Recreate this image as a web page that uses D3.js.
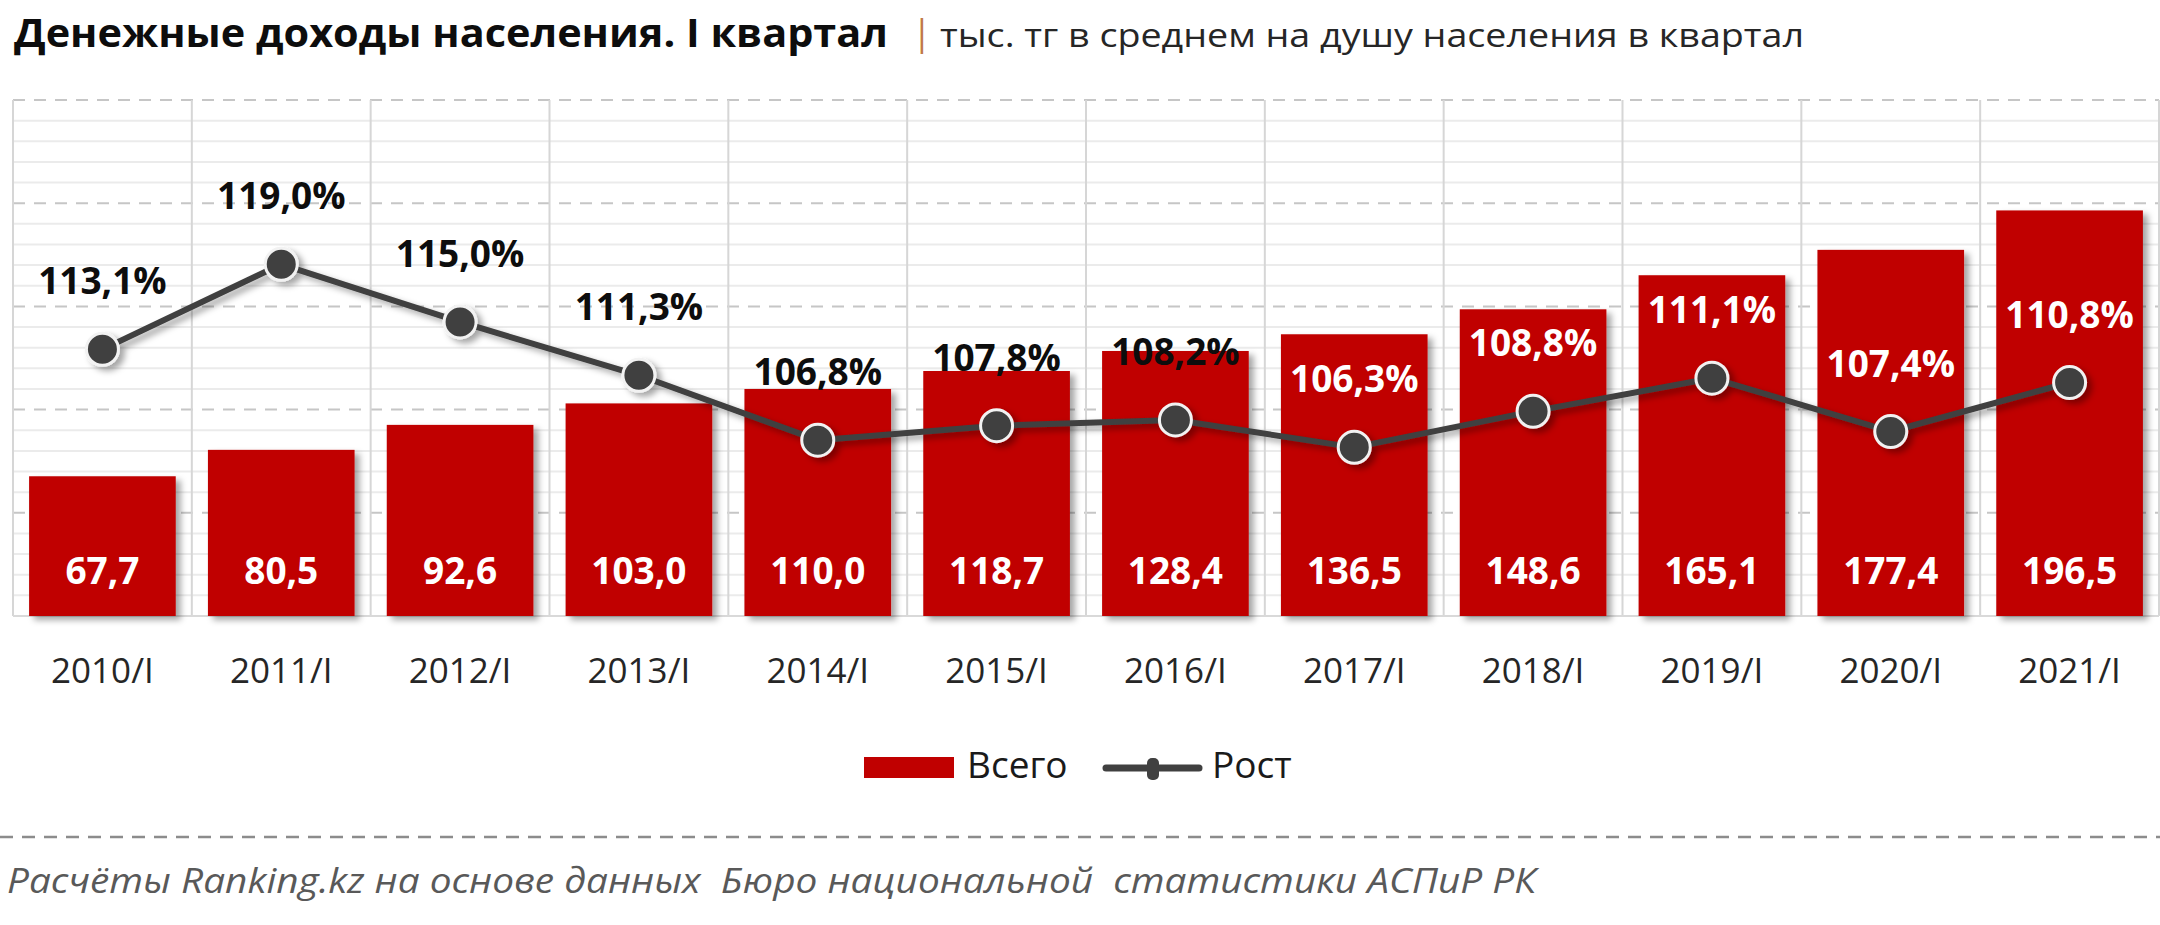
<!DOCTYPE html>
<html>
<head>
<meta charset="utf-8">
<script src="https://cdn.jsdelivr.net/npm/d3@7"></script>
<style>
  body { margin: 0; background: #fff; }
  svg { display: block; font-family: "Open Sans", sans-serif; }
</style>
</head>
<body>
<svg id="chart"></svg>
<script>
// ---- data ----
const periods = ["2010/I", "2011/I", "2012/I", "2013/I", "2014/I", "2015/I",
                 "2016/I", "2017/I", "2018/I", "2019/I", "2020/I", "2021/I"];
const totals = [67.7, 80.5, 92.6, 103.0, 110.0, 118.7, 128.4, 136.5, 148.6, 165.1, 177.4, 196.5];
const growth = [113.1, 119.0, 115.0, 111.3, 106.8, 107.8, 108.2, 106.3, 108.8, 111.1, 107.4, 110.8];
const seriesNames = ["Всего", "Рост"];

const width = 2160, height = 925;
const plot = { left: 13, right: 2159, top: 100, bottom: 616 };

const locale = d3.formatLocale({ decimal: ",", thousands: " ", grouping: [3], currency: ["", ""] });
const fmt = locale.format(".1f");

const svg = d3.select("#chart")
  .attr("width", width)
  .attr("height", height)
  .attr("viewBox", `0 0 ${width} ${height}`);

svg.append("rect").attr("width", width).attr("height", height).attr("fill", "#fff");

const defs = svg.append("defs");
const shadow = defs.append("filter").attr("id", "shadow")
  .attr("x", "-20%").attr("y", "-20%").attr("width", "150%").attr("height", "150%");
shadow.append("feDropShadow")
  .attr("dx", 5).attr("dy", 4).attr("stdDeviation", 3)
  .attr("flood-color", "#000").attr("flood-opacity", 0.35);

// ---- scales ----
const x = d3.scaleBand().domain(periods).range([plot.left, plot.right]).padding(0);
const barW = x.step() * 0.82;
const y = d3.scaleLinear().domain([0, 250]).range([plot.bottom, plot.top]);
const y2 = d3.scaleLinear().domain([94.6, 130.4]).range([plot.bottom, plot.top]);
const cx = d => x(d) + x.bandwidth() / 2;

// ---- grid ----
const grid = svg.append("g");
const minor = d3.range(10, 250, 10).filter(v => v % 50 !== 0);
grid.selectAll(".minor").data(minor).enter().append("line")
  .attr("x1", plot.left).attr("x2", plot.right)
  .attr("y1", d => y(d)).attr("y2", d => y(d))
  .attr("stroke", "#ebebeb").attr("stroke-width", 2);

grid.selectAll(".major").data(d3.range(50, 251, 50)).enter().append("line")
  .attr("x1", plot.left).attr("x2", plot.right)
  .attr("y1", d => y(d)).attr("y2", d => y(d))
  .attr("stroke", "#c6c6c6").attr("stroke-width", 2)
  .attr("stroke-dasharray", "12,9");

grid.selectAll(".vline").data(d3.range(periods.length + 1)).enter().append("line")
  .attr("x1", i => plot.left + i * x.step()).attr("x2", i => plot.left + i * x.step())
  .attr("y1", plot.top).attr("y2", plot.bottom)
  .attr("stroke", "#d6d6d6").attr("stroke-width", 2);

grid.append("line")
  .attr("x1", plot.left).attr("x2", plot.right)
  .attr("y1", y(0)).attr("y2", y(0))
  .attr("stroke", "#d9d9d9").attr("stroke-width", 2);

// ---- bars ----
svg.append("g").attr("filter", "url(#shadow)")
  .selectAll("rect").data(totals).enter().append("rect")
  .attr("x", (d, i) => cx(periods[i]) - barW / 2)
  .attr("y", d => y(d))
  .attr("width", barW)
  .attr("height", d => y(0) - y(d))
  .attr("fill", "#c00000");

svg.append("g").selectAll("text").data(totals).enter().append("text")
  .attr("x", (d, i) => cx(periods[i]))
  .attr("y", y(0) - 32)
  .attr("text-anchor", "middle")
  .attr("fill", "#fff")
  .attr("font-size", 37)
  .attr("font-weight", 700)
  .text(d => fmt(d));

// ---- growth line ----
const line = d3.line()
  .x((d, i) => cx(periods[i]))
  .y(d => y2(d));

const lineG = svg.append("g").attr("filter", "url(#shadow)");
lineG.append("path")
  .datum(growth)
  .attr("d", line)
  .attr("fill", "none")
  .attr("stroke", "#404040")
  .attr("stroke-width", 6)
  .attr("stroke-linejoin", "round");

lineG.selectAll("circle").data(growth).enter().append("circle")
  .attr("cx", (d, i) => cx(periods[i]))
  .attr("cy", d => y2(d))
  .attr("r", 16)
  .attr("fill", "#404040")
  .attr("stroke", "#f2f2f2")
  .attr("stroke-width", 3);

// labels above the points: white when they sit inside the bar
svg.append("g").selectAll("text").data(growth).enter().append("text")
  .attr("x", (d, i) => cx(periods[i]))
  .attr("y", d => y2(d) - 55)
  .attr("text-anchor", "middle")
  .attr("font-size", 37)
  .attr("font-weight", 700)
  .attr("fill", (d, i) => (y2(d) - 55 - 26 > y(totals[i]) ? "#fff" : "#0d0d0d"))
  .text(d => fmt(d) + "%");

// ---- x axis labels ----
svg.append("g").selectAll("text").data(periods).enter().append("text")
  .attr("x", d => cx(d))
  .attr("y", 683)
  .attr("text-anchor", "middle")
  .attr("font-size", 35)
  .attr("fill", "#262626")
  .text(d => d);

// ---- legend ----
const legend = svg.append("g");
legend.append("rect")
  .attr("x", 864).attr("y", 757).attr("width", 90).attr("height", 21)
  .attr("fill", "#c00000");
legend.append("text")
  .attr("x", 967).attr("y", 778)
  .attr("font-size", 37).attr("fill", "#1a1a1a")
  .text(seriesNames[0]);
legend.append("line")
  .attr("x1", 1106).attr("x2", 1199).attr("y1", 768).attr("y2", 768)
  .attr("stroke", "#404040").attr("stroke-width", 7).attr("stroke-linecap", "round");
legend.append("rect")
  .attr("x", 1147).attr("y", 758).attr("width", 12).attr("height", 22).attr("rx", 5)
  .attr("fill", "#404040");
legend.append("text")
  .attr("x", 1212).attr("y", 778)
  .attr("font-size", 37).attr("fill", "#1a1a1a")
  .text(seriesNames[1]);

// ---- title ----
svg.append("text")
  .attr("x", 14).attr("y", 47)
  .attr("font-size", 40).attr("font-weight", 700).attr("fill", "#0d0d0d")
  .attr("textLength", 874).attr("lengthAdjust", "spacingAndGlyphs")
  .text("Денежные доходы населения. I квартал");
svg.append("text")
  .attr("x", 912).attr("y", 45)
  .attr("font-size", 36).attr("fill", "#c27a45")
  .text("|");
svg.append("text")
  .attr("x", 940).attr("y", 47)
  .attr("font-size", 33).attr("fill", "#262626")
  .attr("textLength", 864).attr("lengthAdjust", "spacingAndGlyphs")
  .text("тыс. тг в среднем на душу населения в квартал");

// ---- footer ----
svg.append("line")
  .attr("x1", 0).attr("x2", width).attr("y1", 837).attr("y2", 837)
  .attr("stroke", "#8c8c8c").attr("stroke-width", 2.5)
  .attr("stroke-dasharray", "13,9");
svg.append("text")
  .attr("x", 7).attr("y", 893)
  .attr("font-size", 34).attr("font-style", "italic").attr("fill", "#595959")
  .attr("textLength", 1529).attr("lengthAdjust", "spacingAndGlyphs")
  .style("white-space", "pre")
  .text("Расчёты Ranking.kz на основе данных  Бюро национальной  статистики АСПиР РК");
</script>
</body>
</html>
